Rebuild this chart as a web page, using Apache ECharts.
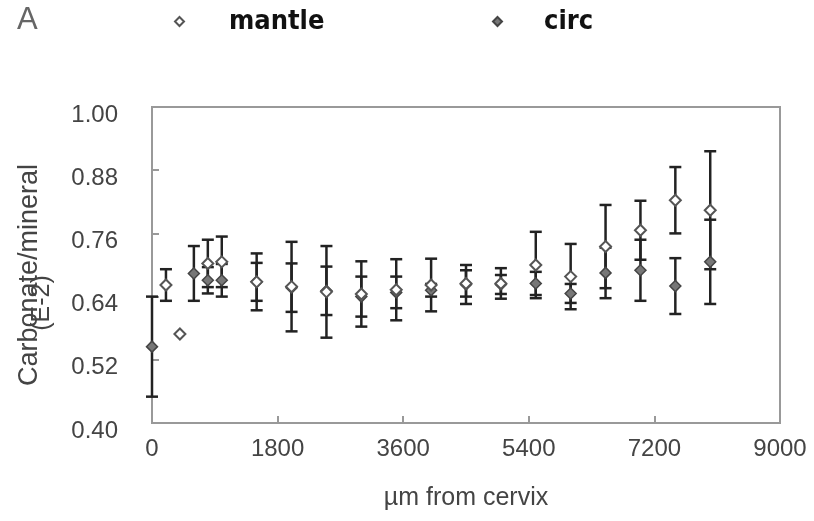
<!DOCTYPE html>
<html>
	<head>
		<meta charset="UTF-8">
		<title></title>
		<script src="https://cdn.jsdelivr.net/npm/echarts@6/dist/echarts.min.js"></script>
		<style>
			html, body { margin: 0; padding: 0; background: #fff; }
			#main { width: 814px; height: 521px; }
		</style>
	</head>
	<body>
		<div id="main"></div>
		<script>
			// 数据
			var xTicks = [0, 1800, 3600, 5400, 7200, 9000];
			var yTicks = [0.40, 0.52, 0.64, 0.76, 0.88, 1.00];

			var mantleX = [200, 400, 800, 1000, 1500, 2000, 2500, 3000, 3500, 4000, 4500, 5000, 5500, 6000, 6500, 7000, 7500, 8000];
			var mantleVal = [0.662, 0.569, 0.703, 0.706, 0.668, 0.659, 0.649, 0.645, 0.653, 0.662, 0.665, 0.665, 0.700, 0.678, 0.735, 0.766, 0.823, 0.804];
			var mantleErr = [0.030, 0, 0.045, 0.048, 0.054, 0.085, 0.087, 0.062, 0.058, 0.050, 0.025, 0.029, 0.063, 0.062, 0.079, 0.056, 0.063, 0.112];

			var circX = [0, 600, 800, 1000, 1500, 2000, 2500, 3000, 3500, 4000, 4500, 5000, 5500, 6000, 6500, 7000, 7500, 8000];
			var circVal = [0.545, 0.684, 0.671, 0.671, 0.668, 0.657, 0.651, 0.640, 0.648, 0.652, 0.663, 0.663, 0.665, 0.646, 0.685, 0.690, 0.660, 0.706];
			var circErr = [0.095, 0.052, 0.025, 0.031, 0.036, 0.046, 0.046, 0.038, 0.030, 0.012, 0.037, 0.018, 0.022, 0.018, 0.048, 0.058, 0.053, 0.080];

			function pts(xs, vs) {
				return xs.map(function(x, i) { return [x, vs[i]]; });
			}
			function bars(xs, vs, es) {
				return xs.map(function(x, i) { return [x, vs[i] - es[i], vs[i] + es[i]]; });
			}

			// 误差线
			function renderErr(params, api) {
				var lo = api.coord([api.value(0), api.value(1)]);
				var hi = api.coord([api.value(0), api.value(2)]);
				var w = 6;
				var st = { stroke: '#222', lineWidth: 2.5 };
				if (hi[1] === lo[1]) return null;
				return {
					type: 'group',
					children: [
						{ type: 'line', shape: { x1: lo[0], y1: lo[1], x2: hi[0], y2: hi[1] }, style: st },
						{ type: 'line', shape: { x1: lo[0] - w, y1: lo[1], x2: lo[0] + w, y2: lo[1] }, style: st },
						{ type: 'line', shape: { x1: hi[0] - w, y1: hi[1], x2: hi[0] + w, y2: hi[1] }, style: st }
					]
				};
			}

			var myChart = echarts.init(document.getElementById('main'));
			var font = 'Liberation Sans, Arial, sans-serif';
			var legendText = { fontFamily: 'DejaVu Sans Condensed', fontWeight: 'bold', fontSize: 27, color: '#111' };

			var option = {
				backgroundColor: '#fff',
				animation: false,
				grid: {
					left: 152, top: 107, right: 34, bottom: 98,
					show: true, borderColor: '#999', borderWidth: 2
				},
				legend: [{
					left: 174, top: 8, padding: 0,
					itemWidth: 9, itemHeight: 9,
					data: ['mantle'],
					textStyle: Object.assign({ padding: [0, 0, 0, 40] }, legendText)
				}, {
					left: 492, top: 8, padding: 0,
					itemWidth: 9, itemHeight: 9,
					data: ['circ'],
					textStyle: Object.assign({ padding: [0, 0, 0, 37] }, legendText)
				}],
				graphic: [
					{ type: 'text', left: 17, top: 5, style: { text: 'A', font: '31px ' + font, fill: '#666' } },
					{ type: 'text', x: 30, y: 275, rotation: Math.PI / 2,
						style: { text: 'Carbonate/mineral', font: '27px ' + font, fill: '#444', textAlign: 'center', textVerticalAlign: 'middle' } },
					{ type: 'text', x: 42, y: 303, rotation: Math.PI / 2,
						style: { text: '(E-2)', font: '25px ' + font, fill: '#444', textAlign: 'center', textVerticalAlign: 'middle' } }
				],
				xAxis: {
					type: 'value', min: xTicks[0], max: xTicks[xTicks.length - 1], interval: 1800,
					name: 'µm from cervix', nameLocation: 'middle', nameGap: 63,
					nameTextStyle: { fontFamily: font, fontSize: 25, color: '#444' },
					axisLine: { lineStyle: { color: '#999', width: 2 } },
					axisTick: { inside: true, length: 7, lineStyle: { color: '#999', width: 2 } },
					axisLabel: { fontFamily: font, fontSize: 24, color: '#444', margin: 14,
						formatter: function(v) { return String(v); } },
					splitLine: { show: false }
				},
				yAxis: {
					type: 'value', min: yTicks[0], max: yTicks[yTicks.length - 1], interval: 0.12,
					axisLine: { lineStyle: { color: '#999', width: 2 } },
					axisTick: { inside: true, length: 7, lineStyle: { color: '#999', width: 2 } },
					axisLabel: {
						fontFamily: font, fontSize: 24, color: '#444', margin: 34,
						verticalAlign: 'top', lineHeight: 16,
						formatter: function(v) { return v.toFixed(2); }
					},
					splitLine: { show: false }
				},
				series: [{
					type: 'custom', name: 'mantleErr', renderItem: renderErr, z: 2,
					data: bars(mantleX, mantleVal, mantleErr)
				}, {
					type: 'custom', name: 'circErr', renderItem: renderErr, z: 2,
					data: bars(circX, circVal, circErr)
				}, {
					name: 'circ', type: 'scatter', symbol: 'diamond', symbolSize: 11, z: 3,
					itemStyle: { color: '#777', borderColor: '#444', borderWidth: 1.5, opacity: 1 },
					data: pts(circX, circVal)
				}, {
					name: 'mantle', type: 'scatter', symbol: 'diamond', symbolSize: 11, z: 4,
					itemStyle: { color: '#fff', borderColor: '#555', borderWidth: 2, opacity: 1 },
					data: pts(mantleX, mantleVal)
				}]
			};

			myChart.setOption(option);
		</script>
	</body>
</html>
